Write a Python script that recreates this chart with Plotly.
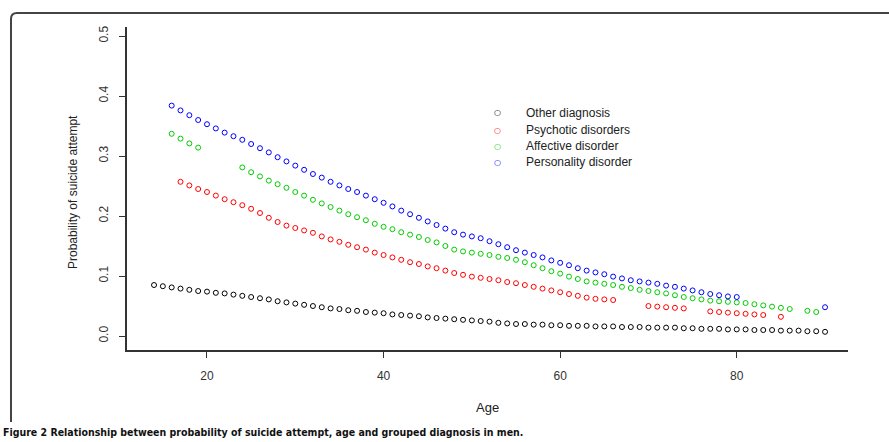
import plotly.graph_objects as go

# fitted probabilities, one point per age
ages_other = list(range(14, 91))
prob_other = [0.085, 0.083, 0.081, 0.079, 0.077, 0.075, 0.074, 0.072, 0.071, 0.069,
              0.067, 0.065, 0.063, 0.061, 0.058, 0.056, 0.054, 0.052, 0.050, 0.048,
              0.046, 0.045, 0.043, 0.042, 0.040, 0.039, 0.038, 0.036, 0.035, 0.034,
              0.033, 0.031, 0.030, 0.029, 0.028, 0.027, 0.026, 0.025, 0.024, 0.022,
              0.021, 0.020, 0.020, 0.019, 0.019, 0.018, 0.018, 0.017, 0.017, 0.017,
              0.016, 0.016, 0.016, 0.015, 0.015, 0.015, 0.014, 0.014, 0.014, 0.014,
              0.013, 0.013, 0.012, 0.012, 0.012, 0.011, 0.011, 0.011, 0.010, 0.010,
              0.010, 0.009, 0.009, 0.009, 0.008, 0.008, 0.007]

ages_psych = list(range(17, 67)) + [70, 71, 72, 73, 74, 77, 78, 79, 80, 81, 82, 83, 85]
prob_psych = [0.257, 0.251, 0.245, 0.240, 0.234, 0.228, 0.223, 0.218, 0.212, 0.205,
              0.197, 0.190, 0.184, 0.180, 0.176, 0.172, 0.166, 0.161, 0.157, 0.152,
              0.148, 0.144, 0.139, 0.135, 0.131, 0.127, 0.123, 0.120, 0.116, 0.113,
              0.109, 0.105, 0.102, 0.099, 0.097, 0.095, 0.093, 0.090, 0.088, 0.085,
              0.082, 0.079, 0.076, 0.073, 0.070, 0.067, 0.064, 0.062, 0.061, 0.060,
              0.050, 0.049, 0.048, 0.047, 0.046, 0.041, 0.040, 0.039, 0.038, 0.037,
              0.036, 0.035, 0.032]

ages_affect = [16, 17, 18, 19] + list(range(24, 87)) + [88, 89]
prob_affect = [0.337, 0.329, 0.321, 0.314,
               0.281, 0.273, 0.266, 0.259, 0.253, 0.247, 0.240, 0.234, 0.227, 0.221,
               0.215, 0.209, 0.203, 0.198, 0.193, 0.187, 0.182, 0.178, 0.173, 0.169,
               0.165, 0.160, 0.156, 0.150, 0.144, 0.141, 0.139, 0.137, 0.135, 0.132,
               0.130, 0.127, 0.123, 0.118, 0.113, 0.108, 0.104, 0.099, 0.095, 0.091,
               0.089, 0.087, 0.085, 0.082, 0.080, 0.077, 0.075, 0.073, 0.071, 0.068,
               0.065, 0.063, 0.061, 0.059, 0.058, 0.057, 0.056, 0.055, 0.053, 0.051,
               0.049, 0.047, 0.045,
               0.042, 0.040]

ages_person = list(range(16, 81)) + [90]
prob_person = [0.384, 0.376, 0.368, 0.360, 0.353, 0.346, 0.339, 0.333, 0.327, 0.320,
               0.313, 0.306, 0.298, 0.291, 0.284, 0.277, 0.270, 0.264, 0.257, 0.251,
               0.245, 0.240, 0.234, 0.228, 0.222, 0.216, 0.209, 0.203, 0.197, 0.191,
               0.185, 0.179, 0.173, 0.169, 0.166, 0.163, 0.158, 0.153, 0.148, 0.143,
               0.139, 0.135, 0.131, 0.126, 0.122, 0.118, 0.113, 0.109, 0.106, 0.103,
               0.099, 0.096, 0.093, 0.091, 0.089, 0.087, 0.084, 0.082, 0.079, 0.076,
               0.073, 0.070, 0.068, 0.066, 0.065,
               0.048]

series = [
    ("Other diagnosis", ages_other, prob_other, "black"),
    ("Psychotic disorders", ages_psych, prob_psych, "#ff0000"),
    ("Affective disorder", ages_affect, prob_affect, "#00cd00"),
    ("Personality disorder", ages_person, prob_person, "#0000ff"),
]

y_ticks = [0.0, 0.1, 0.2, 0.3, 0.4, 0.5]
x_ticks = [20, 40, 60, 80]

W, H = 889, 442
L, R, T, B = 127, 848, 27, 350  # plot area in pixels
FONT = "Liberation Sans, Arial, sans-serif"


def px_x(p):
    return (p - L) / (R - L)


def px_y(p):
    return (B - p) / (B - T)


fig = go.Figure()
for name, ages, probs, col in series:
    fig.add_trace(go.Scatter(x=ages, y=probs, mode="markers", name=name,
                             marker=dict(symbol="circle-open", size=5, color=col,
                                         line=dict(width=1, color=col))))

axis_font = dict(family=FONT, size=12, color="#333")
fig.update_xaxes(range=[10.94, 92.6], tickvals=x_ticks, ticks="outside", ticklen=6,
                 tickcolor="#333", showline=True, linecolor="#333", linewidth=1.5,
                 showgrid=False, zeroline=False, tickfont=axis_font, ticklabelstandoff=8)
fig.update_yaxes(range=[-0.0233, 0.515], tickvals=y_ticks, tickformat=".1f",
                 ticks="outside", ticklen=6, tickcolor="#333", showline=True,
                 linecolor="#333", linewidth=1.5, showgrid=False, zeroline=False,
                 tickangle=-90, tickfont=axis_font, ticklabelstandoff=6)

# rounded frame around the figure panel
x0, y0, r = px_x(11), px_y(13), 6
path = "M %f,%f L %f,%f Q %f,%f %f,%f L %f,%f" % (
    x0, px_y(422), x0, px_y(13 + r), x0, y0, px_x(11 + r), y0, px_x(900), y0)
fig.add_shape(type="path", path=path, xref="paper", yref="paper",
              line=dict(color="#444", width=2))

fig.add_annotation(text="Age", x=px_x(487), y=px_y(407), xref="paper", yref="paper",
                   xanchor="center", yanchor="middle", showarrow=False,
                   font=dict(family=FONT, size=13, color="#222"))
fig.add_annotation(text="Probability of suicide attempt", textangle=-90,
                   x=px_x(73), y=px_y(192), xref="paper", yref="paper",
                   xanchor="center", yanchor="middle", showarrow=False,
                   font=dict(family=FONT, size=12, color="#222"))
fig.add_annotation(text="<b>Figure 2 Relationship between probability of suicide attempt, age and grouped diagnosis in men.</b>",
                   x=px_x(1), y=px_y(432), xref="paper", yref="paper",
                   xanchor="left", yanchor="middle", showarrow=False,
                   font=dict(family="Liberation Sans Narrow, DejaVu Sans Condensed, Arial Narrow, sans-serif",
                             size=10.5, color="#111"))

# R-style legend without box: symbol column and label column
leg_rows = [113, 130, 146, 162]
for (name, ages, probs, col), row in zip(series, leg_rows):
    fig.add_annotation(text="○", x=px_x(497), y=px_y(row), xref="paper", yref="paper",
                       xanchor="center", yanchor="middle", showarrow=False,
                       font=dict(family="DejaVu Sans", size=8, color=col))
    fig.add_annotation(text=name, x=px_x(524), y=px_y(row), xref="paper", yref="paper",
                       xanchor="left", yanchor="middle", showarrow=False,
                       font=dict(family=FONT, size=12, color="#222"))

fig.update_layout(
    width=W, height=H,
    margin=dict(l=L, r=W - R, t=T, b=H - B),
    paper_bgcolor="white", plot_bgcolor="white",
    showlegend=False,
)

fig.write_html("out.html", config={"displayModeBar": False},
               post_script="document.body.style.margin='0px';")
